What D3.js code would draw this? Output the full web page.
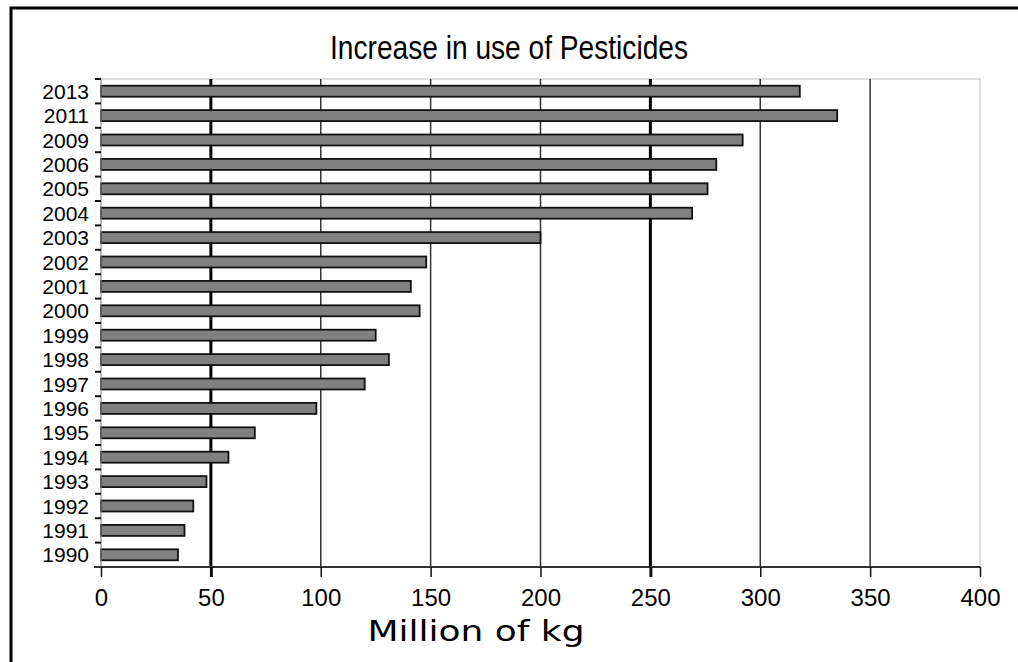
<!DOCTYPE html>
<html>
<head>
<meta charset="utf-8">
<script src="https://cdn.jsdelivr.net/npm/d3@7"></script>
<style>
  body { margin: 0; background: #fff; }
  svg { display: block; }
</style>
</head>
<body>
<svg id="chart" width="1018" height="662"></svg>
<script>
// years as they appear top to bottom
const years = ['2013', '2011', '2009', '2006', '2005', '2004', '2003', '2002', '2001', '2000',
    '1999', '1998', '1997', '1996', '1995', '1994', '1993', '1992', '1991', '1990'];
// pesticide use, million kg
const usage = [318, 335, 292, 280, 276, 269, 200, 148, 141, 145,
    125, 131, 120, 98, 70, 58, 48, 42, 38, 35];
const xTicks = [0, 50, 100, 150, 200, 250, 300, 350, 400];
const boldGrid = [50, 250];

const data = years.map((y, i) => ({ year: y, value: usage[i] }));

const svg = d3.select('#chart');
const plot = { left: 101, right: 980, top: 79, bottom: 567 };

const x = d3.scaleLinear()
    .domain([0, 400])
    .range([plot.left, plot.right]);

const y = d3.scaleBand()
    .domain(years)
    .range([plot.top, plot.bottom])
    .paddingInner(0.55)
    .paddingOuter(0.275);

// outer frame (top and left edges only visible)
svg.append('path')
    .attr('d', 'M11,1018 L11,8 L1018,8')
    .attr('fill', 'none')
    .attr('stroke', '#000')
    .attr('stroke-width', 3);

// plot area box
svg.append('rect')
    .attr('x', plot.left)
    .attr('y', plot.top)
    .attr('width', plot.right - plot.left)
    .attr('height', plot.bottom - plot.top)
    .attr('fill', 'none')
    .attr('stroke', '#bbb')
    .attr('stroke-width', 1);

// gridlines
svg.append('g')
    .selectAll('line')
    .data(xTicks.filter(t => t > 0 && t < 400))
    .enter().append('line')
    .attr('x1', d => x(d))
    .attr('x2', d => x(d))
    .attr('y1', plot.top)
    .attr('y2', plot.bottom)
    .attr('stroke', d => boldGrid.includes(d) ? '#000' : '#333')
    .attr('stroke-width', d => boldGrid.includes(d) ? 3 : 1.5);

// bars
svg.append('g')
    .selectAll('rect')
    .data(data)
    .enter().append('rect')
    .attr('x', x(0))
    .attr('y', d => y(d.year))
    .attr('width', d => x(d.value) - x(0))
    .attr('height', y.bandwidth())
    .attr('fill', '#808080')
    .attr('stroke', '#111')
    .attr('stroke-width', 1.8);

// y axis: ticks on band boundaries, labels centred on bands
const yAxis = svg.append('g');
yAxis.append('line')
    .attr('x1', plot.left).attr('x2', plot.left)
    .attr('y1', plot.top).attr('y2', plot.bottom)
    .attr('stroke', '#999')
    .attr('stroke-width', 1);
yAxis.selectAll('.ytick')
    .data(d3.range(years.length + 1))
    .enter().append('line')
    .attr('class', 'ytick')
    .attr('x1', plot.left - 6)
    .attr('x2', plot.left)
    .attr('y1', i => plot.top + i * y.step())
    .attr('y2', i => plot.top + i * y.step())
    .attr('stroke', '#111')
    .attr('stroke-width', 2);
yAxis.selectAll('text')
    .data(years)
    .enter().append('text')
    .attr('x', plot.left - 12)
    .attr('y', d => y(d) + y.bandwidth() / 2)
    .attr('dy', '0.36em')
    .attr('text-anchor', 'end')
    .style('font-family', 'Liberation Sans, Arial, sans-serif')
    .style('font-size', '21px')
    .attr('fill', '#000')
    .text(d => d);

// x axis
const xAxis = svg.append('g')
    .attr('transform', `translate(0, ${plot.bottom})`)
    .call(d3.axisBottom(x).tickValues(xTicks).tickSize(10).tickPadding(12).tickSizeOuter(0));
xAxis.select('.domain')
    .attr('d', `M${plot.left - 7},0H${plot.right}`)
    .attr('stroke', '#333')
    .attr('stroke-width', 2);
xAxis.selectAll('.tick line')
    .attr('stroke', '#111')
    .attr('stroke-width', d => boldGrid.includes(d) ? 3 : 1.5);
xAxis.selectAll('.tick text')
    .style('font-family', 'Liberation Sans, Arial, sans-serif')
    .style('font-size', '24px')
    .attr('fill', '#000');

// title (narrow, tall lettering)
svg.append('text')
    .attr('x', 509)
    .attr('y', 59)
    .attr('text-anchor', 'middle')
    .attr('textLength', 358)
    .attr('lengthAdjust', 'spacingAndGlyphs')
    .style('font-family', 'Liberation Sans, Arial, sans-serif')
    .style('font-size', '33px')
    .attr('fill', '#000')
    .text('Increase in use of Pesticides');

// x axis label
svg.append('text')
    .attr('x', 476)
    .attr('y', 641)
    .attr('text-anchor', 'middle')
    .attr('textLength', 217)
    .attr('lengthAdjust', 'spacingAndGlyphs')
    .style('font-family', 'DejaVu Sans, Verdana, sans-serif')
    .style('font-size', '28px')
    .attr('fill', '#000')
    .text('Million of kg');
</script>
</body>
</html>
